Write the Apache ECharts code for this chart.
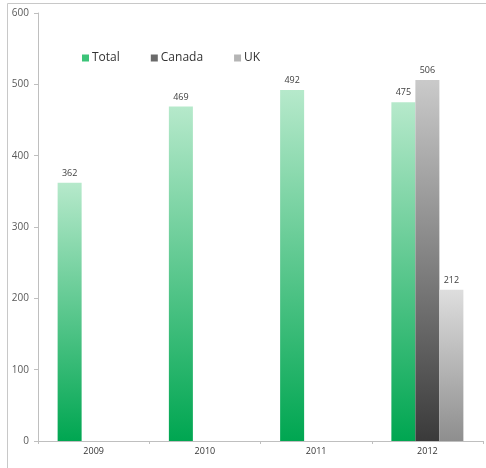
<!DOCTYPE html>
<html>
<head>
<meta charset="utf-8">
<script src="https://cdn.jsdelivr.net/npm/echarts@6/dist/echarts.min.js"></script>
<style>
html,body{margin:0;padding:0;background:#fff;}
#c{width:486px;height:468px;}
</style>
</head>
<body>
<div id="c"></div>
<script>
var categories = ['2009', '2010', '2011', '2012'];
var totalValues = [362, 469, 492, 475];
var canadaValues = [null, null, null, 506];
var ukValues = [null, null, null, 212];
var yTicks = [0, 100, 200, 300, 400, 500, 600];

function grad(top, bottom) {
  return new echarts.graphic.LinearGradient(0, 0, 0, 1, [
    { offset: 0, color: top },
    { offset: 1, color: bottom }
  ]);
}
var labelStyle = { show: true, position: 'top', fontSize: 9, color: '#404040', distance: 5, fontFamily: 'Open Sans' };

var chart = echarts.init(document.getElementById('c'));
chart.setOption({
  animation: false,
  textStyle: { fontFamily: 'Open Sans' },
  graphic: [
    { type: 'polyline', shape: { points: [[7.5, 470], [7.5, 3.5], [490, 3.5]] }, style: { stroke: '#c8c8c8', lineWidth: 1, fill: null }, silent: true }
  ],
  legend: {
    left: 77, top: 47,
    itemWidth: 7, itemHeight: 7, itemGap: 31,
    icon: 'rect',
    textStyle: { fontSize: 12, color: '#333', fontFamily: 'Open Sans', padding: [0, 0, 0, -2] },
    data: [
      { name: 'Total', itemStyle: { color: '#3cc479' } },
      { name: 'Canada', itemStyle: { color: '#6a6a6a' } },
      { name: 'UK', itemStyle: { color: '#b5b5b5' } }
    ]
  },
  grid: { left: 38, right: 3, top: 13, bottom: 27 },
  xAxis: {
    type: 'category',
    data: categories,
    axisLine: { lineStyle: { color: '#bfbfbf' } },
    axisTick: { show: true, length: 3, lineStyle: { color: '#bfbfbf' } },
    axisLabel: { fontSize: 9, color: '#333', margin: 6 }
  },
  yAxis: {
    type: 'value',
    min: yTicks[0], max: yTicks[yTicks.length - 1], interval: 100,
    axisLine: { show: true, lineStyle: { color: '#bfbfbf' } },
    axisTick: { show: true, length: 4, lineStyle: { color: '#bfbfbf' } },
    splitLine: { show: false },
    axisLabel: { fontSize: 10, color: '#595959', margin: 9 }
  },
  series: [
    { name: 'Total', type: 'bar', data: totalValues, barWidth: 24, barGap: '0%',
      itemStyle: { color: grad('#b6e9cb', '#00a651') }, label: labelStyle },
    { name: 'Canada', type: 'bar', data: canadaValues, barWidth: 24, barGap: '0%',
      itemStyle: { color: grad('#cacaca', '#3a3a3a') }, label: labelStyle },
    { name: 'UK', type: 'bar', data: ukValues, barWidth: 24, barGap: '0%',
      itemStyle: { color: grad('#dedede', '#8e8e8e') }, label: labelStyle }
  ]
});
</script>
</body>
</html>
